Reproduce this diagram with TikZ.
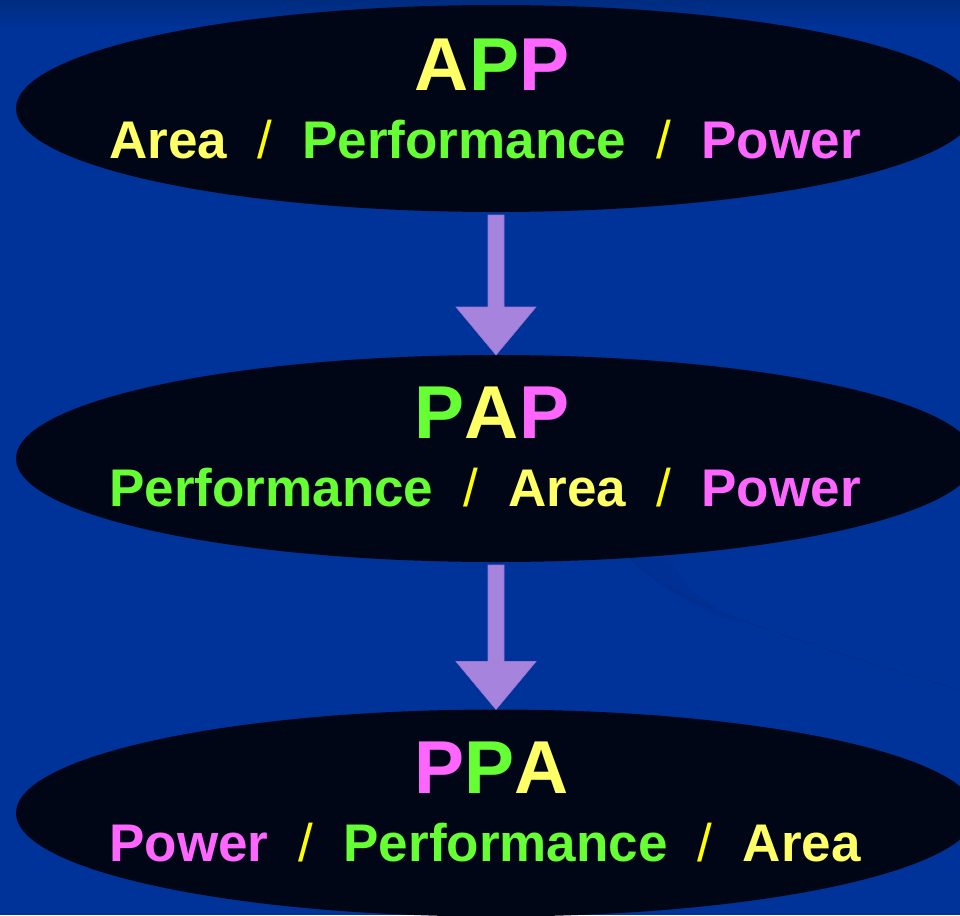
\documentclass[tikz,border=0pt]{standalone}
\usepackage{fontspec}
\setmainfont{Liberation Sans}
\usetikzlibrary{shapes.geometric,calc}

\definecolor{bgblue}{RGB}{0,51,153}
\definecolor{topblue}{RGB}{0,44,128}
\definecolor{swoosh}{RGB}{0,45,138}
\definecolor{ovalfill}{RGB}{0,6,22}
\definecolor{arrowfill}{RGB}{166,132,222}
\definecolor{arrowedge}{RGB}{150,116,214}
\definecolor{cyellow}{RGB}{255,255,102}
\definecolor{cgreen}{RGB}{102,255,51}
\definecolor{cpink}{RGB}{255,102,255}
\definecolor{cslash}{RGB}{255,255,0}

\newcommand{\sep}{\hspace{0.57em}{\mdseries\color{cslash}/}\hspace{0.57em}}
\newcommand{\Y}[1]{{\color{cyellow}#1}}
\newcommand{\G}[1]{{\color{cgreen}#1}}
\newcommand{\M}[1]{{\color{cpink}#1}}

\tikzset{
  oval/.style={ellipse, fill=ovalfill, draw=none, inner sep=0pt, outer sep=0pt,
    minimum width=960pt, minimum height=207pt},
  title/.style={anchor=base, inner sep=0pt, font=\bfseries\fontsize{75}{80}\selectfont},
  subtitle/.style={anchor=base, inner sep=0pt, font=\bfseries\fontsize{53}{60}\selectfont},
  fatarrow/.style={fill=arrowfill, draw=arrowedge, line width=0.6pt, line join=miter}
}

\begin{document}
\begin{tikzpicture}[x=1pt, y=-1pt]
  \useasboundingbox (0,0) rectangle (960,915);
  \clip (0,0) rectangle (960,915);

  % background
  \fill[bgblue] (0,0) rectangle (960,915);
  \shade[top color=topblue, bottom color=bgblue] (0,0) rectangle (960,28);

  % faint swoosh behind the lower part
  \fill[swoosh, opacity=0.35] (630,558) .. controls (660,590) and (700,612) .. (742,624)
     .. controls (712,604) and (680,590) .. (673,558) -- cycle;
  \draw[swoosh, line width=1.5pt, opacity=0.55] (630,558) .. controls (680,605) and (760,630) .. (960,690);

  % ovals
  \node[oval] (app) at (496,108.5) {};
  \node[oval] (pap) at (496,458.5) {};
  \node[oval] (ppa) at (496,813) {};

  % labels
  \node[title] (appT) at ($(app.center)+(-4,-18)$) {\Y{A}\G{P}\M{P}};
  \node[subtitle] (appS) at ($(app.center)+(-11,50)$) {\Y{Area}\sep\G{Performance}\sep\M{Power}};

  \node[title] (papT) at ($(pap.center)+(-4,-20)$) {\G{P}\Y{A}\M{P}};
  \node[subtitle] (papS) at ($(pap.center)+(-11,48)$) {\G{Performance}\sep\Y{Area}\sep\M{Power}};

  \node[title] (ppaT) at ($(ppa.center)+(-4,-20)$) {\M{P}\G{P}\Y{A}};
  \node[subtitle] (ppaS) at ($(ppa.center)+(-11,48)$) {\M{Power}\sep\G{Performance}\sep\Y{Area}};

  % block arrows between the ovals
  \foreach \a/\b in {app/pap, pap/ppa}{
    \filldraw[fatarrow]
      ($(\a.south)+(-8,3)$) -- ($(\a.south)+(8,3)$)
      -- ($(\b.north)+(8,-48)$) -- ($(\b.north)+(40,-48)$)
      -- (\b.north)
      -- ($(\b.north)+(-40,-48)$) -- ($(\b.north)+(-8,-48)$) -- cycle;
  }
\end{tikzpicture}
\end{document}
